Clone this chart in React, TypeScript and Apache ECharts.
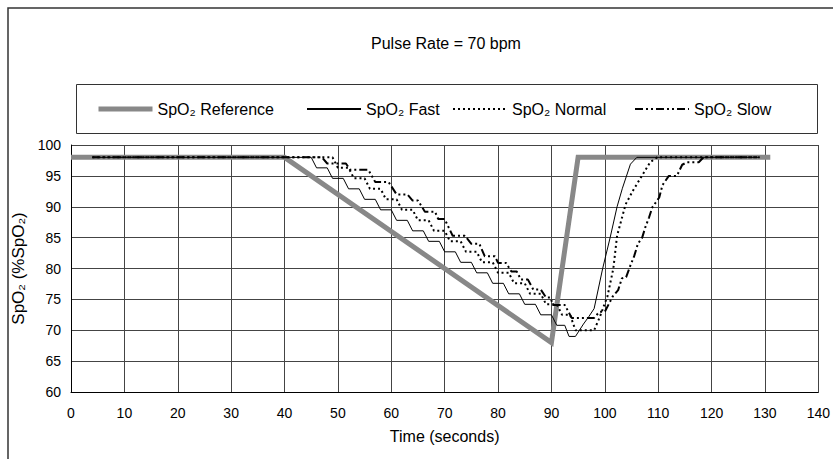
import React, { useEffect, useRef } from "react";
import * as echarts from "echarts";

// ---------- data ----------
const xTicks = { min: 0, max: 140, interval: 10 };
const yTicks = { min: 60, max: 100, interval: 5 };

const refT = [0, 40, 90, 95, 131];
const refV = [98, 98, 68, 98, 98];

const fastT = [4, 45, 46, 48, 49, 51, 52, 54, 55, 57, 58, 60, 61, 63, 64, 66, 67, 69, 70, 72, 73, 75, 76, 78, 79, 81, 82, 84, 85, 87, 88, 90, 91, 92.5, 93.3, 94.5, 96, 97, 98, 99.6, 101, 102.3, 103.3, 104.8, 106, 129];
const fastV = [98, 98, 96.3, 96.3, 94.6, 94.6, 92.9, 92.9, 91.2, 91.2, 89.5, 89.5, 87.8, 87.8, 86.1, 86.1, 84.4, 84.4, 82.7, 82.7, 81, 81, 79.3, 79.3, 77.6, 77.6, 75.9, 75.9, 74.2, 74.2, 72.5, 72.5, 70.8, 70.8, 69, 69, 71, 72.2, 73.5, 80, 85, 90, 93, 96.9, 98, 98];

const normalT = [4, 49, 50, 52, 53, 55, 56, 58, 59, 61, 62, 64, 65, 67, 68, 70, 71, 73, 74, 76, 77, 79, 80, 82, 83, 85, 86, 88, 89, 91, 92, 93.5, 94.5, 98, 99, 100.5, 101.6, 102.3, 103.9, 105.4, 107.3, 108.5, 109.8, 129];
const normalV = [98, 98, 96.3, 96.3, 94.6, 94.6, 92.9, 92.9, 91.2, 91.2, 89.5, 89.5, 87.8, 87.8, 86.1, 86.1, 84.4, 84.4, 82.7, 82.7, 81, 81, 79.3, 79.3, 77.6, 77.6, 75.9, 75.9, 74.2, 74.2, 72.5, 72.5, 70, 70, 72, 75.5, 80, 85.3, 90.4, 92.8, 95.5, 97.2, 98, 98];

const slowT = [4, 47, 48, 51.5, 52.3, 55.7, 57, 59.5, 61, 63, 64, 65, 66.3, 68.2, 68.8, 70, 71.5, 73.8, 75, 76.5, 77.5, 79.4, 80, 81.5, 82.5, 83.5, 84.3, 85.6, 86.6, 88, 89, 89.8, 90.3, 92.5, 93.8, 98, 99, 100, 101.5, 102.5, 103.2, 104, 104.8, 105.5, 106.2, 107, 107.6, 108.3, 108.9, 110.2, 110.8, 112, 113.5, 114.5, 115.4, 117.6, 118.5, 129];
const slowV = [98, 98, 97, 97, 96, 96, 94, 94, 92, 92, 91, 91, 89.2, 89.2, 88, 88, 85.3, 85.3, 84, 84, 82, 82, 80.9, 80.9, 79.5, 79.5, 78.2, 78.2, 76.6, 76.6, 75.3, 75.3, 74.1, 74.1, 72, 72, 73, 73, 75.5, 76.5, 78.4, 78.6, 80.5, 82, 84, 85, 86.7, 88.3, 89.9, 91.5, 93.5, 95, 95, 96.8, 97.2, 97.2, 98, 98];

const names = ["SpO₂ Reference", "SpO₂ Fast", "SpO₂ Normal", "SpO₂ Slow"];
const titleText = "Pulse Rate = 70 bpm";
const xName = "Time (seconds)";
const yName = "SpO₂ (%SpO₂)";

const zip = (t: number[], v: number[]) => t.map((x, i) => [x, v[i]]);

const FONT = "'Liberation Sans', Arial, Helvetica, sans-serif";

export default function App() {
  const ref = useRef<HTMLDivElement>(null);
  useEffect(() => {
    const chart = echarts.init(ref.current!, null, { renderer: "svg" });
    const legendBase = {
      top: 101,
      padding: 0,
      itemWidth: 54,
      itemHeight: 16,
      itemGap: 0,
      itemStyle: { opacity: 0 },
      textStyle: { fontSize: 16, color: "#000", fontFamily: FONT },
    };
    chart.setOption({
      animation: false,
      backgroundColor: "#fff",
      textStyle: { fontFamily: FONT },
      title: {
        text: titleText,
        left: 366,
        top: 30,
        textStyle: { fontSize: 16, fontWeight: "normal", color: "#000", fontFamily: FONT },
      },
      graphic: [
        {
          type: "rect",
          shape: { x: 8, y: 8, width: 900, height: 500 },
          style: { fill: "none", stroke: "#333", lineWidth: 1.5 },
          silent: true,
        },
        {
          type: "rect",
          shape: { x: 76.5, y: 84.5, width: 741, height: 49 },
          style: { fill: "none", stroke: "#333", lineWidth: 1 },
          silent: true,
        },
      ],
      legend: [
        { ...legendBase, left: 96, data: [names[0]], lineStyle: { width: 5, color: "#888" } },
        { ...legendBase, left: 306, data: [names[1]] },
        { ...legendBase, left: 452, data: [names[2]], lineStyle: { width: 2 } },
        { ...legendBase, left: 634, data: [names[3]], lineStyle: { width: 2 } },
      ],
      grid: { left: 71, top: 145, width: 751, height: 247 },
      xAxis: {
        type: "value",
        ...xTicks,
        name: xName,
        nameLocation: "middle",
        nameGap: 36,
        nameTextStyle: { fontSize: 16, color: "#000", fontFamily: FONT },
        axisLine: { show: true, lineStyle: { color: "#000", width: 1 } },
        axisTick: { show: false },
        axisLabel: { margin: 14, fontSize: 14, color: "#000", fontFamily: FONT },
        splitLine: { show: true, lineStyle: { color: "#444", width: 1 } },
      },
      yAxis: {
        type: "value",
        ...yTicks,
        name: yName,
        nameLocation: "middle",
        nameGap: 36,
        nameTextStyle: { fontSize: 17, color: "#000", fontFamily: FONT },
        axisLine: { show: true, lineStyle: { color: "#000", width: 1 } },
        axisTick: { show: false },
        axisLabel: { margin: 10, fontSize: 14, color: "#000", fontFamily: FONT },
        splitLine: { show: true, lineStyle: { color: "#444", width: 1 } },
      },
      series: [
        {
          name: names[0],
          type: "line",
          data: zip(refT, refV),
          symbol: "none",
          lineStyle: { color: "#888", width: 5, join: "miter" },
          itemStyle: { color: "#888" },
          z: 1,
        },
        {
          name: names[1],
          type: "line",
          data: zip(fastT, fastV),
          symbol: "none",
          lineStyle: { color: "#000", width: 1 },
          itemStyle: { color: "#000" },
          z: 4,
        },
        {
          name: names[2],
          type: "line",
          data: zip(normalT, normalV),
          symbol: "none",
          lineStyle: { color: "#000", width: 2, type: [2, 3] },
          itemStyle: { color: "#000" },
          z: 3,
        },
        {
          name: names[3],
          type: "line",
          data: zip(slowT, slowV),
          symbol: "none",
          lineStyle: { color: "#000", width: 2, type: [8, 3, 2, 3, 2, 3] },
          itemStyle: { color: "#000" },
          z: 2,
        },
      ],
    });
    return () => chart.dispose();
  }, []);
  return (
    <div
      ref={ref}
      style={{ position: "fixed", left: 0, top: 0, width: 833, height: 459, background: "#fff" }}
    />
  );
}
